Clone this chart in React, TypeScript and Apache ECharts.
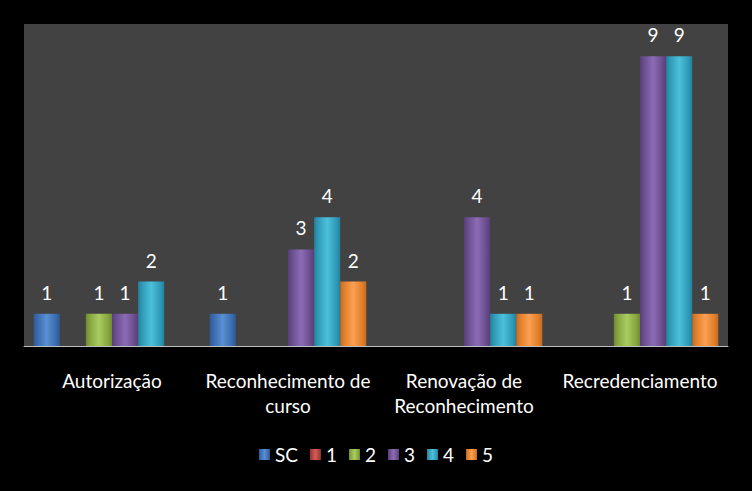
import React, { useEffect, useRef } from "react";
import * as echarts from "echarts";

const categories = ["Autorização", "Reconhecimento de curso", "Renovação de Reconhecimento", "Recredenciamento"];
const seriesNames = ["SC", "1", "2", "3", "4", "5"];
const valuesSC = [1, 1, 0, 0];
const values1 = [0, 0, 0, 0];
const values2 = [1, 0, 0, 1];
const values3 = [1, 3, 4, 9];
const values4 = [2, 4, 1, 9];
const values5 = [0, 2, 1, 1];
const allValues = [valuesSC, values1, values2, values3, values4, values5];
const colors = [
  ["#3a6cae", "#5a8fd3", "#2f5a93"],
  ["#a8403d", "#d45c58", "#8e3532"],
  ["#86a63f", "#a9cc60", "#6f8b33"],
  ["#6a4d8e", "#8c6cb5", "#583f77"],
  ["#2f9ab8", "#4dc0dc", "#26809a"],
  ["#e07f2c", "#fb9f50", "#c06a22"],
];
const wrapped: Record<string, string> = {
  "Reconhecimento de curso": "Reconhecimento de\ncurso",
  "Renovação de Reconhecimento": "Renovação de\nReconhecimento",
};

export default function App() {
  const ref = useRef<HTMLDivElement>(null);
  useEffect(() => {
    document.body.style.margin = "0";
    document.body.style.background = "#000";
    const chart = echarts.init(ref.current!, null, { renderer: "svg" });
    const font = "Lato, 'Open Sans', sans-serif";
    chart.setOption({
      animation: false,
      backgroundColor: "#000000",
      textStyle: { fontFamily: font },
      grid: {
        left: 24,
        right: 24,
        top: 24,
        bottom: 145,
        show: true,
        backgroundColor: "#424242",
        borderWidth: 0,
      },
      legend: {
        bottom: 22,
        left: "center",
        itemWidth: 11,
        itemHeight: 11,
        itemGap: 12,
        icon: "rect",
        textStyle: { color: "#ffffff", fontSize: 19, fontFamily: font },
        data: seriesNames,
      },
      xAxis: {
        type: "category",
        data: categories,
        axisLine: { show: true, lineStyle: { color: "#bfbfbf", width: 1 } },
        axisTick: { show: false },
        axisLabel: {
          color: "#ffffff",
          fontSize: 19,
          lineHeight: 25,
          margin: 22,
          interval: 0,
          fontFamily: font,
          formatter: (v: string) => wrapped[v] || v,
        },
      },
      yAxis: {
        type: "value",
        min: 0,
        max: 10,
        interval: 1,
        show: false,
        splitLine: { show: false },
      },
      series: seriesNames.map((name, i) => ({
        name,
        type: "bar",
        barGap: "0%",
        barCategoryGap: "11%",
        data: allValues[i],
        itemStyle: {
          color: {
            type: "linear",
            x: 0,
            y: 0,
            x2: 1,
            y2: 0,
            colorStops: [
              { offset: 0, color: colors[i][2] },
              { offset: 0.15, color: colors[i][0] },
              { offset: 0.5, color: colors[i][1] },
              { offset: 0.85, color: colors[i][0] },
              { offset: 1, color: colors[i][2] },
            ],
          },
        },
        label: {
          show: true,
          position: "top",
          distance: 12,
          color: "#ffffff",
          fontSize: 19,
          fontFamily: font,
          formatter: (p: any) => (p.value ? String(p.value) : ""),
        },
      })),
    });
    return () => chart.dispose();
  }, []);
  return <div ref={ref} style={{ width: 752, height: 491 }} />;
}
